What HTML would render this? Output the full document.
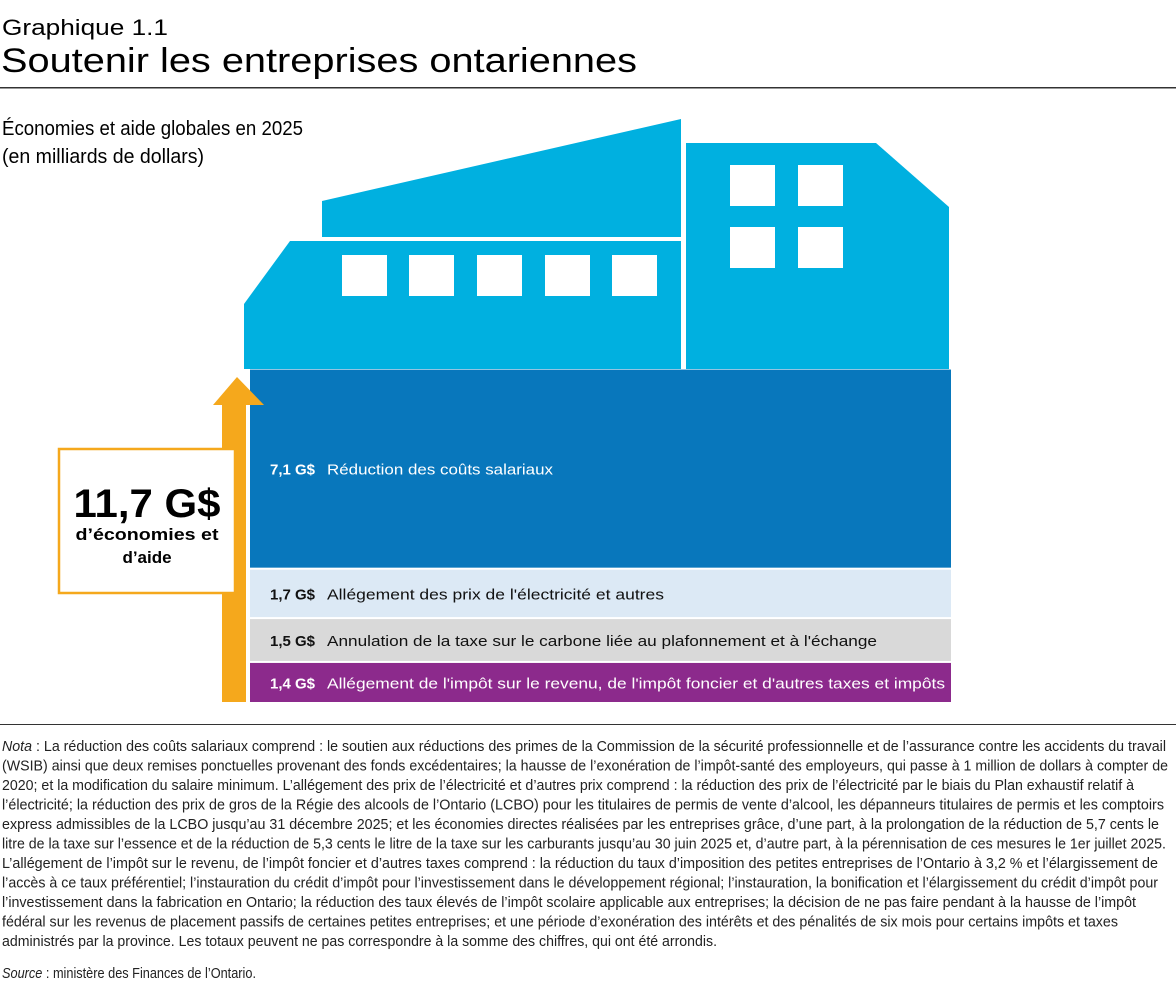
<!DOCTYPE html>
<html><head><meta charset="utf-8"><style>
html,body{margin:0;padding:0;background:#fff;}
svg{display:block;font-family:"Liberation Sans",sans-serif;}
</style></head><body>
<svg id="chart" width="1176" height="988" viewBox="0 0 1176 988">
<text x="2" y="35" font-size="22" fill="#000" textLength="166" lengthAdjust="spacingAndGlyphs">Graphique 1.1</text>
<text x="1" y="72" font-size="34" fill="#000" textLength="636" lengthAdjust="spacingAndGlyphs">Soutenir les entreprises ontariennes</text>
<rect x="0" y="87" width="1176" height="1.5" fill="#333"/>
<text x="2" y="135" font-size="20" textLength="301" lengthAdjust="spacingAndGlyphs">Économies et aide globales en 2025</text>
<text x="2" y="163" font-size="20" textLength="202" lengthAdjust="spacingAndGlyphs">(en milliards de dollars)</text>

<g fill="#00b0e0">
<polygon points="322,201 681,119 681,237 322,237"/>
<polygon points="244,304 290,241 681,241 681,369 244,369"/>
<polygon points="686,143 876,143 949,207 949,369 686,369"/>
</g>
<g fill="#fff">
<rect x="342" y="255" width="45" height="41"/><rect x="409" y="255" width="45" height="41"/><rect x="477" y="255" width="45" height="41"/><rect x="545" y="255" width="45" height="41"/><rect x="612" y="255" width="45" height="41"/>
<rect x="730" y="165" width="45" height="41"/><rect x="798" y="165" width="45" height="41"/><rect x="730" y="227" width="45" height="41"/><rect x="798" y="227" width="45" height="41"/>
</g>

<g id="bars"></g>

<polygon points="222,702 246,702 246,405 264,405 237,377 213,405 222,405" fill="#f5a81c"/>
<rect x="59" y="449" width="176" height="144" fill="#fff" stroke="#f5a81c" stroke-width="2.5"/>
<text x="147" y="517" font-size="40" font-weight="bold" text-anchor="middle" textLength="147" lengthAdjust="spacingAndGlyphs">11,7 G$</text>
<text x="147" y="540" font-size="17" font-weight="bold" text-anchor="middle" textLength="143" lengthAdjust="spacingAndGlyphs">d’économies et</text>
<text x="147" y="563" font-size="17" font-weight="bold" text-anchor="middle">d’aide</text>

<rect x="0" y="724" width="1176" height="1" fill="#333"/>
<g id="notes" font-size="14.5" fill="#222"></g>
</svg>
<script>
const categories = ["Réduction des coûts salariaux","Allégement des prix de l'électricité et autres","Annulation de la taxe sur le carbone liée au plafonnement et à l'échange","Allégement de l'impôt sur le revenu, de l'impôt foncier et d'autres taxes et impôts"];
const values = [7.1, 1.7, 1.5, 1.4];
const valueLabels = ["7,1 G$","1,7 G$","1,5 G$","1,4 G$"];

const NS="http://www.w3.org/2000/svg";
const fills=["#0877bc","#dce9f5","#d9d9d9","#8c2a8c"];
const textFills=["#fff","#111","#111","#fff"];
const labelW=[226,337,550,618];
const base=702, gap=2, k=27.9;
function yScale(v){return v*k;}
const bars=document.getElementById('bars');
let cur=base;
for(let i=values.length-1;i>=0;i--){
  const h=yScale(values[i]);
  const top=cur-h;
  const r=document.createElementNS(NS,'rect');
  r.setAttribute('x',250);r.setAttribute('y',top);r.setAttribute('width',701);r.setAttribute('height',h);
  r.setAttribute('fill',fills[i]);
  
  
  bars.appendChild(r);
  const cy = top+h/2+6;
  const t=document.createElementNS(NS,'text');
  t.setAttribute('x',270);t.setAttribute('y',cy);t.setAttribute('font-size','15');t.setAttribute('font-weight','bold');
  t.setAttribute('fill',textFills[i]);t.textContent=valueLabels[i];
  
  
  bars.appendChild(t);
  const l=document.createElementNS(NS,'text');
  l.setAttribute('x',327);l.setAttribute('y',cy);l.setAttribute('font-size','15');
  l.setAttribute('fill',textFills[i]);l.setAttribute('textLength',labelW[i]);l.setAttribute('lengthAdjust','spacingAndGlyphs');
  l.textContent=categories[i];
  
  
  bars.appendChild(l);
  cur=top-gap;
}

const noteLines=[
["Nota"," : La réduction des coûts salariaux comprend : le soutien aux réductions des primes de la Commission de la sécurité professionnelle et de l’assurance contre les accidents du travail",1164],
["","(WSIB) ainsi que deux remises ponctuelles provenant des fonds excédentaires; la hausse de l’exonération de l’impôt-santé des employeurs, qui passe à 1 million de dollars à compter de",1166],
["","2020; et la modification du salaire minimum. L’allégement des prix de l’électricité et d’autres prix comprend : la réduction des prix de l’électricité par le biais du Plan exhaustif relatif à",1132],
["","l’électricité; la réduction des prix de gros de la Régie des alcools de l’Ontario (LCBO) pour les titulaires de permis de vente d’alcool, les dépanneurs titulaires de permis et les comptoirs",1162],
["","express admissibles de la LCBO jusqu’au 31 décembre 2025; et les économies directes réalisées par les entreprises grâce, d’une part, à la prolongation de la réduction de 5,7 cents le",1157],
["","litre de la taxe sur l’essence et de la réduction de 5,3 cents le litre de la taxe sur les carburants jusqu’au 30 juin 2025 et, d’autre part, à la pérennisation de ces mesures le 1er juillet 2025.",1164],
["","L’allégement de l’impôt sur le revenu, de l’impôt foncier et d’autres taxes comprend : la réduction du taux d’imposition des petites entreprises de l’Ontario à 3,2 % et l’élargissement de",1156],
["","l’accès à ce taux préférentiel; l’instauration du crédit d’impôt pour l’investissement dans le développement régional; l’instauration, la bonification et l’élargissement du crédit d’impôt pour",1156],
["","l’investissement dans la fabrication en Ontario; la réduction des taux élevés de l’impôt scolaire applicable aux entreprises; la décision de ne pas faire pendant à la hausse de l’impôt",1134],
["","fédéral sur les revenus de placement passifs de certaines petites entreprises; et une période d’exonération des intérêts et des pénalités de six mois pour certains impôts et taxes",1116],
["","administrés par la province. Les totaux peuvent ne pas correspondre à la somme des chiffres, qui ont été arrondis.",715],
["Source"," : ministère des Finances de l’Ontario.",254]
];
const notes=document.getElementById('notes');
noteLines.forEach((ln,i)=>{
  const t=document.createElementNS(NS,'text');
  t.setAttribute('x',2);
  t.setAttribute('y', i<11 ? 751+i*19.5 : 978);
  t.setAttribute('textLength',ln[2]);t.setAttribute('lengthAdjust','spacingAndGlyphs');
  if(ln[0]){const s=document.createElementNS(NS,'tspan');s.setAttribute('font-style','italic');s.textContent=ln[0];t.appendChild(s);}
  t.appendChild(document.createTextNode(ln[1]));
  
  
  notes.appendChild(t);
});
</script>
</body></html>
